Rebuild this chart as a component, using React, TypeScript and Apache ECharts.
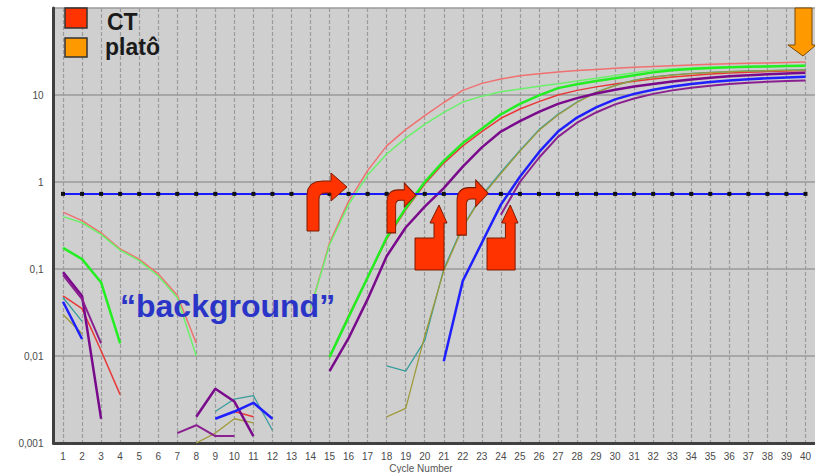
import { useEffect, useRef } from 'react';
import * as echarts from 'echarts';

// Cycle numbers along the x axis
const cycles = ['1','2','3','4','5','6','7','8','9','10','11','12','13','14','15','16','17','18','19','20',
  '21','22','23','24','25','26','27','28','29','30','31','32','33','34','35','36','37','38','39','40'];

// Fluorescence per cycle for each sample (null = no positive reading on a log scale)
const sampleRedLight = [0.45, 0.36, 0.26, 0.17, 0.13, 0.088, 0.05, 0.014, null, null,
  null, null, null, 0.035, 0.2, 0.6, 1.35, 2.6, 4.0, 5.8,
  8.2, 11.3, 13.6, 15.3, 16.6, 17.6, 18.4, 19.1, 19.7, 20.3,
  20.8, 21.3, 21.7, 22.1, 22.5, 22.8, 23.1, 23.4, 23.7, 24.0];
const sampleGreenLight = [0.4, 0.34, 0.25, 0.165, 0.125, 0.083, 0.047, 0.01, null, null,
  null, null, null, 0.035, 0.19, 0.55, 1.2, 2.1, 3.2, 4.6,
  6.3, 8.3, 9.7, 10.9, 11.7, 12.6, 13.5, 14.5, 15.6, 16.8,
  18.0, 19.2, 19.9, 20.4, 20.8, 21.1, 21.3, 21.5, 21.7, 21.9];
const sampleGreen = [0.175, 0.13, 0.07, 0.014, null, null, null, null, null, null,
  null, null, null, null, 0.0097, 0.028, 0.08, 0.23, 0.5, 1.0,
  1.75, 2.8, 4.1, 6.0, 7.9, 9.9, 12.0, 13.3, 14.5, 15.6,
  16.9, 18.2, 19.2, 19.9, 20.4, 20.8, 21.1, 21.3, 21.5, 21.7];
const sampleRed = [0.049, 0.035, 0.0115, 0.0036, null, null, null, null, null, 0.0023,
  0.002, null, null, null, 0.0097, 0.029, 0.08, 0.22, 0.48, 0.95,
  1.65, 2.6, 3.8, 5.4, 6.9, 8.4, 10.0, 11.3, 12.4, 13.4,
  14.4, 15.3, 16.1, 16.8, 17.4, 17.9, 18.3, 18.6, 18.9, 19.1];
const samplePurple = [0.092, 0.049, 0.0019, null, null, null, null, 0.002, 0.0042, 0.003,
  0.0012, null, null, null, 0.0067, 0.016, 0.045, 0.14, 0.3, 0.52,
  0.85, 1.5, 2.5, 3.8, 5.0, 6.4, 7.9, 9.2, 10.4, 11.5,
  12.5, 13.4, 14.3, 15.1, 15.8, 16.4, 16.9, 17.3, 17.7, 18.0];
const sampleTeal = [0.047, 0.025, null, null, null, null, null, null, 0.0023, 0.0032,
  0.0035, 0.0014, null, null, null, null, null, 0.0077, 0.0067, 0.015,
  0.1, 0.31, 0.7, 1.3, 2.3, 4.0, 6.0, 8.3, 10.8, 12.9,
  14.8, 16.1, 17.0, 17.7, 18.2, 18.6, 18.9, 19.1, 19.3, 19.4];
const sampleOlive = [0.03, 0.018, null, null, null, null, null, 0.001, 0.0013, 0.0019,
  0.0017, null, null, null, null, null, null, 0.002, 0.0025, 0.017,
  0.095, 0.3, 0.68, 1.25, 2.25, 3.9, 5.9, 8.2, 10.7, 12.8,
  14.7, 16.0, 16.9, 17.6, 18.1, 18.5, 18.8, 19.0, 19.2, 19.3];
const sampleBlue = [0.042, 0.0157, null, null, null, null, null, null, 0.0019, 0.0023,
  0.0029, 0.0019, null, null, null, null, null, null, null, null,
  0.0087, 0.073, 0.2, 0.55, 1.15, 2.2, 3.8, 5.5, 7.2, 8.9,
  10.3, 11.5, 12.5, 13.4, 14.1, 14.7, 15.2, 15.6, 15.9, 16.2];
const samplePurple2 = [0.085, 0.045, 0.014, null, null, null, 0.0013, 0.0016, 0.0012, 0.0012,
  null, null, null, null, null, null, null, null, null, null,
  null, null, null, 0.42, 1.0, 1.9, 3.3, 4.8, 6.3, 7.8,
  9.1, 10.3, 11.3, 12.1, 12.8, 13.4, 13.8, 14.2, 14.5, 14.7];

// Detection threshold
const threshold = 0.73;

// Annotation shapes
const TURN_ARROW = 'M0,58 L0,22 Q0,8 16,8 L24,8 L24,0 L40,14 L24,28 L24,20 L18,20 Q12,20 12,26 L12,58 Z';
const UP_ARROW = 'M24,0 L32,18 L29,18 L29,65 L0,65 L0,33 L19,33 L19,18 L15,18 Z';
const DOWN_ARROW = 'M7,0 L24,0 L24,37 L28,37 L15,48 L0,37 L7,37 Z';
echarts.graphic.registerShape('turnArrow', echarts.graphic.extendPath(TURN_ARROW, {}));
echarts.graphic.registerShape('upArrow', echarts.graphic.extendPath(UP_ARROW, {}));
echarts.graphic.registerShape('downArrow', echarts.graphic.extendPath(DOWN_ARROW, {}));

const FONT = '"Liberation Sans", Arial, sans-serif';
const arrowStyle = { fill: '#ff3300', stroke: '#7a1a00', lineWidth: 1, strokeNoScale: true };

function curve(name: string, data: (number | null)[], color: string, width: number) {
  return {
    name,
    type: 'line',
    data,
    symbol: 'none',
    connectNulls: false,
    lineStyle: { color, width },
    itemStyle: { color },
    z: 3,
  };
}

export default function App() {
  const ref = useRef<HTMLDivElement>(null);

  useEffect(() => {
    if (!ref.current) return;
    const chart = echarts.init(ref.current, undefined, { renderer: 'svg' });
    chart.setOption({
      animation: false,
      backgroundColor: '#ffffff',
      grid: {
        left: 53.5,
        right: -1.7,
        top: 8,
        bottom: 30,
        show: true,
        backgroundColor: '#cfcfcf',
        borderWidth: 0,
      },
      xAxis: {
        type: 'category',
        data: cycles,
        boundaryGap: true,
        axisLine: { show: true, lineStyle: { color: '#404040', width: 3 } },
        axisTick: { show: false, alignWithLabel: true },
        axisLabel: { color: '#4a4a4a', fontSize: 10, fontFamily: FONT, margin: 8, interval: 0 },
        splitLine: {
          show: true,
          alignWithLabel: true,
          lineStyle: { color: '#9c9c9c', width: 1.2, type: [4, 2] },
        },
      },
      yAxis: {
        type: 'log',
        logBase: 10,
        min: 0.001,
        max: 100,
        axisLine: { show: true, lineStyle: { color: '#404040', width: 3 } },
        axisTick: { show: false },
        axisLabel: {
          color: '#4a4a4a',
          fontSize: 10,
          fontFamily: FONT,
          margin: 10,
          formatter: (v: number) => (v >= 100 ? '' : String(+v.toPrecision(2)).replace('.', ',')),
        },
        splitLine: { show: true, lineStyle: { color: '#9a9a9a', width: 1.5 } },
      },
      series: [
        curve('A', sampleRedLight, '#f07070', 1.5),
        curve('B', sampleGreenLight, '#6af06a', 1.5),
        curve('C', sampleRed, '#e83838', 1.5),
        curve('D', sampleGreen, '#22ee22', 2.5),
        curve('E', sampleTeal, '#3a9c9c', 1.3),
        curve('F', sampleOlive, '#a09a3a', 1.3),
        curve('G', samplePurple, '#7a0a8c', 2.5),
        curve('H', samplePurple2, '#8a2090', 2),
        curve('I', sampleBlue, '#1f1fff', 2.5),
        {
          name: 'Threshold',
          type: 'line',
          data: cycles.map(() => threshold),
          symbol: 'rect',
          symbolSize: 4,
          showSymbol: true,
          showAllSymbol: true,
          lineStyle: { color: '#1a1aff', width: 2 },
          itemStyle: { color: '#111111' },
          z: 4,
        },
      ],
      graphic: [
        // legend
        { type: 'rect', shape: { x: 65, y: 8, width: 22, height: 20 }, style: { fill: '#ff3300', stroke: '#333333', lineWidth: 1.5 }, z: 100 },
        { type: 'rect', shape: { x: 65, y: 38, width: 22, height: 19 }, style: { fill: '#ff9900', stroke: '#333333', lineWidth: 1.5 }, z: 100 },
        { type: 'text', x: 107, y: 22, style: { text: 'CT', fontSize: 23, fontWeight: 'bold', fontFamily: FONT, fill: '#1a1a1a', verticalAlign: 'middle' }, z: 100 },
        { type: 'text', x: 105, y: 47, style: { text: 'platô', fontSize: 23, fontWeight: 'bold', fontFamily: FONT, fill: '#1a1a1a', verticalAlign: 'middle' }, z: 100 },
        // background label
        { type: 'text', x: 120, y: 306, style: { text: '“background”', fontSize: 32, fontWeight: 'bold', fontFamily: FONT, fill: '#2a35c8', verticalAlign: 'middle' }, z: 100 },
        // CT arrows
        { type: 'turnArrow', x: 307, y: 173, scaleX: 1, scaleY: 1, style: arrowStyle, z: 100 },
        { type: 'turnArrow', x: 387, y: 183, scaleX: 0.72, scaleY: 0.86, style: arrowStyle, z: 100 },
        { type: 'turnArrow', x: 457, y: 180, scaleX: 0.78, scaleY: 0.95, style: arrowStyle, z: 100 },
        { type: 'upArrow', x: 415, y: 205, scaleX: 1, scaleY: 1, style: arrowStyle, z: 100 },
        { type: 'upArrow', x: 487, y: 205, scaleX: 0.97, scaleY: 1, style: arrowStyle, z: 100 },
        // plateau arrow
        { type: 'downArrow', x: 788, y: 8, scaleX: 1, scaleY: 1, style: { fill: '#ff9900', stroke: '#7a4a00', lineWidth: 1 }, z: 100 },
        // axis title
        { type: 'text', x: 421, y: 463, style: { text: 'Cycle Number', fontSize: 10, fontFamily: FONT, fill: '#555555', align: 'center', verticalAlign: 'top' }, z: 100 },
      ],
    });
    return () => chart.dispose();
  }, []);

  return <div ref={ref} style={{ position: 'fixed', left: 0, top: 0, width: 815, height: 473 }} />;
}
